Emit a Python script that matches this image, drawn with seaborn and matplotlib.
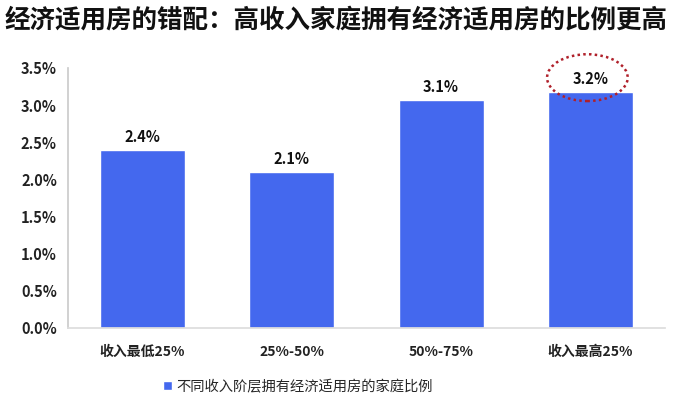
import matplotlib
matplotlib.use("Agg")
import matplotlib.pyplot as plt
from matplotlib.patches import Ellipse
import seaborn as sns
import pandas as pd

categories = ["收入最低25%", "25%-50%", "50%-75%", "收入最高25%"]
values = [2.40, 2.10, 3.07, 3.18]
labels = ["2.4%", "2.1%", "3.1%", "3.2%"]
yticks = [0.0, 0.5, 1.0, 1.5, 2.0, 2.5, 3.0, 3.5]
series_name = "不同收入阶层拥有经济适用房的家庭比例"
title = "经济适用房的错配：高收入家庭拥有经济适用房的比例更高"

sns.set_theme(style="white")
plt.rcParams['font.family'] = ['Noto Sans CJK SC', 'DejaVu Sans']

df = pd.DataFrame({"cat": categories, "val": values, "series": series_name})

fig = plt.figure(figsize=(6.83, 3.97), dpi=100)
ax = fig.add_axes([68/683, 1-328/397, (665-68)/683, (328-68)/397])
sns.barplot(data=df, x="cat", y="val", hue="series", palette=["#4468EE"],
            width=0.57, ax=ax, saturation=1)
ax.set_xlim(-0.5, 3.5)
ax.set_ylim(0, 3.5)
ax.set_yticks(yticks)
ax.set_yticklabels([f"{v:.1f}%" for v in yticks], fontsize=10.5, fontweight="bold", color="#222222")
ax.set_xticklabels(categories, fontsize=10, fontweight="bold", color="#222222")
ax.tick_params(axis="y", pad=8, length=0)
ax.tick_params(axis="x", pad=12, length=0)
ax.set_xlabel("")
ax.set_ylabel("")
for s in ["top", "right"]:
    ax.spines[s].set_visible(False)
ax.spines["left"].set_color("#cccccc")
ax.spines["bottom"].set_color("#dddddd")

for i, (v, lab) in enumerate(zip(values, labels)):
    ax.text(i, v + 0.07, lab, ha="center", va="bottom", fontsize=10.5, fontweight="bold", color="#111111")

ax.add_patch(Ellipse((2.98, 3.37), 0.54, 0.63, fill=False, edgecolor="#b0202a",
                     linestyle=(0, (1, 1.3)), linewidth=1.8, clip_on=False))

leg = ax.legend(loc="upper center", bbox_to_anchor=(0.385, -0.15), frameon=False,
                fontsize=10.3, handlelength=0.6, handleheight=0.6, handletextpad=0.3)

fig.text(5/683, 1-20/397, title, fontsize=18.4, fontweight="bold", va="center", ha="left", color="#111111")

fig.savefig("out.png", dpi=100)
